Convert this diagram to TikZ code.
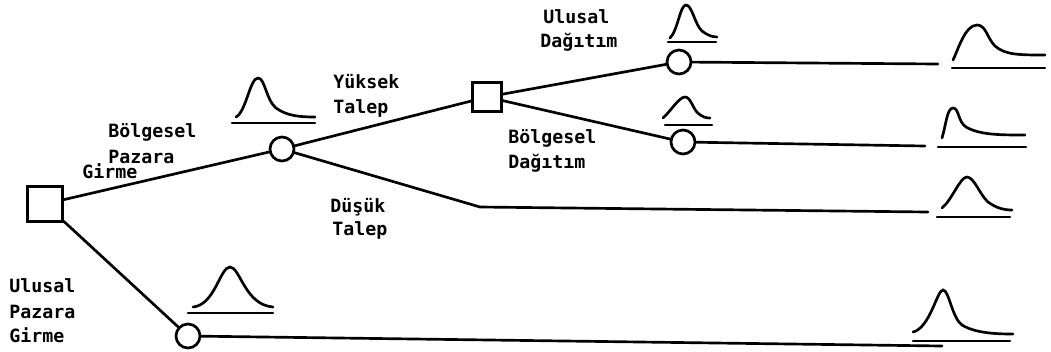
\documentclass[tikz,border=0pt]{standalone}
\usepackage{fontspec}
\newfontfamily\typefont{DejaVu Sans Mono Bold}
\usetikzlibrary{positioning}
\tikzset{
  decision/.style={draw,line width=1.9pt,minimum size=#1,inner sep=0pt,fill=white},
  chance/.style={circle,draw,line width=1.9pt,minimum size=0.6cm,inner sep=0pt,fill=white},
  branch/.style={line width=1.9pt,line cap=round,line join=round},
  curve/.style={line width=1.9pt,line cap=round},
  axisline/.style={line width=1.6pt,line cap=round},
  lbl/.style={font=\typefont\fontsize{13}{17.8}\selectfont,anchor=base west,inner sep=0pt},
}
\begin{document}
\begin{tikzpicture}[x=0.025cm,y=-0.025cm]
    \useasboundingbox (0,0) rectangle (1051,351);
    % decision and chance nodes
    \node[decision=0.875cm] (mkt) at (45,204) {};
    \node[chance] (regC) at (282,149) {};
    \node[chance] (natC) at (188,336) {};
    \node[decision=0.725cm] (dist) at (487,97) {};
    \node[chance] (natD) at (679,62) {};
    \node[chance] (regD) at (683,142) {};
    \coordinate (bend) at (480,207);
    \coordinate (natEnd) at (938,64);
    \coordinate (regEnd) at (925,146);
    \coordinate (lowEnd) at (928,212);
    \coordinate (nmEnd) at (942,346);
    \draw[branch] (mkt) -- (regC);
    \draw[branch] (mkt) -- (natC);
    \draw[branch] (regC) -- (dist);
    \draw[branch] (regC) -- (bend) -- (lowEnd);
    \draw[branch] (dist) -- (natD);
    \draw[branch] (dist) -- (regD);
    \draw[branch] (natD) -- (natEnd);
    \draw[branch] (regD) -- (regEnd);
    \draw[branch] (natC) -- (nmEnd);
    % distributions
    \draw[curve] (236,117) .. controls (246,112) and (250,78) .. (258,78) .. controls (265,78) and (266,100) .. (276,108) .. controls (287,116) and (300,117) .. (315,117);
    \draw[curve] (670,38) .. controls (678,30) and (680,5) .. (686,5) .. controls (692,5) and (695,25) .. (702,31) .. controls (707,35) and (712,37) .. (717,37);
    \draw[curve] (663,118) .. controls (670,112) and (679,97) .. (685,97) .. controls (691,97) and (693,110) .. (699,114) .. controls (703,117) and (706,118) .. (710,118);
    \draw[curve] (953,60) .. controls (958,50) and (965,25) .. (977,25) .. controls (986,25) and (987,38) .. (995,46) .. controls (1005,55) and (1020,55) .. (1045,55);
    \draw[curve] (942,138) .. controls (946,125) and (947,108) .. (953,108) .. controls (959,108) and (958,122) .. (966,127) .. controls (980,135) and (1000,135) .. (1025,135);
    \draw[curve] (942,208) .. controls (952,200) and (960,177) .. (967,177) .. controls (974,177) and (980,195) .. (988,202) .. controls (996,208) and (1004,210) .. (1012,210);
    \draw[curve] (913,332) .. controls (930,328) and (937,290) .. (943,290) .. controls (949,290) and (952,318) .. (962,325) .. controls (975,333) and (995,334) .. (1013,334);
    \draw[curve] (193,307) .. controls (215,305) and (220,267) .. (230,267) .. controls (240,267) and (245,305) .. (273,307);
    \foreach \xa/\xb/\yy in {232/315/123,668/716/42,665/712/125,952/1045/68,938/1026/147,937/1010/217,913/1010/341,188/273/313}
      \draw[axisline] (\xa,\yy) -- (\xb,\yy);
    % labels
    \node[lbl] (bp1) at (108,137) {Bölgesel};
    \node[lbl] (bp2) at (108,163) {Pazara};
    \node[lbl] (bp3) at (82,178) {Girme};
    \node[lbl] (yt1) at (333,88) {Yüksek};
    \node[lbl] (yt2) at (333,113) {Talep};
    \node[lbl] (dt1) at (330,212) {Düşük};
    \node[lbl] (dt2) at (332,235) {Talep};
    \node[lbl] (ud1) at (543,23) {Ulusal};
    \node[lbl] (ud2) at (540,47) {Dağıtım};
    \node[lbl] (bd1) at (508,143) {Bölgesel};
    \node[lbl] (bd2) at (508,168) {Dağıtım};
    \node[lbl] (up1) at (9,292) {Ulusal};
    \node[lbl] (up2) at (9,318) {Pazara};
    \node[lbl] (up3) at (9,342) {Girme};
  \end{tikzpicture}
\end{document}
